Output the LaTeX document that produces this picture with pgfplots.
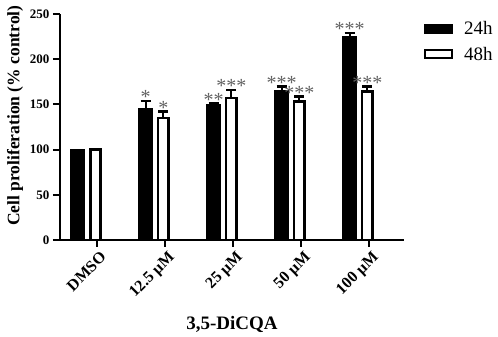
\documentclass[border=0pt]{standalone}
\usepackage{pgfplots}
\pgfplotsset{compat=1.18}
\usepackage{fontspec}
\setmainfont{Liberation Serif}

\begin{document}
\begin{tikzpicture}
\begin{axis}[
  scale only axis,
  width=344pt, height=226pt,
  xmin=-0.54, xmax=4.52,
  ymin=0, ymax=250,
  axis lines=left,
  axis line style={-, line width=2pt},
  xtick={0,1,2,3,4},
  xticklabels={DMSO, 12.5 µM, 25 µM, 50 µM, 100 µM},
  ytick={0,50,100,150,200,250},
  tick style={line width=2pt, black},
  tick align=outside,
  major tick length=7pt,
  /pgf/number format/assume math mode=true,
  y tick label style={font=\bfseries\fontsize{13}{15}\selectfont},
  x tick label style={font=\bfseries\fontsize{16}{18}\selectfont,
    rotate=45, anchor=north east, xshift=3pt, yshift=-1pt},
  ylabel={Cell proliferation (\% control)},
  xlabel={3,5-DiCQA},
  ylabel style={font=\bfseries\fontsize{17.5}{20}\selectfont, at={(ticklabel cs:0.55)}},
  xlabel style={font=\bfseries\fontsize{19}{21}\selectfont, yshift=-8pt},
  legend style={at={(rel axis cs:1,1)}, anchor=north west, xshift=17pt, yshift=-3pt,
    draw=none, fill=none, font=\fontsize{19}{21}\selectfont, row sep=7pt, column sep=9pt},
  legend image code/.code={\draw[#1, line width=2pt] (0pt,-4pt) rectangle (27pt,4pt);},
  nodes near coords style={anchor=base, inner sep=0pt, yshift=-3pt, text=black!62,
    font=\fontsize{20}{20}\selectfont},
  clip=false,
]
% 24h
\addplot[ybar, bar width=0.21, bar shift=0pt, fill=black, draw=black, line width=1pt]
  coordinates {(-0.28,100) (0.72,145) (1.72,150) (2.72,165) (3.72,225)};
\addlegendentry{24h}
% 48h
\addplot[ybar, bar width=0.15, bar shift=0pt, fill=white, draw=black, line width=2.5pt]
  coordinates {(-0.02,100) (0.98,135) (1.98,157) (2.98,153) (3.98,164)};
\addlegendentry{48h}
% SEM, upper half only
\addplot[draw=none, mark=none, forget plot,
  error bars/.cd, y dir=plus, y explicit,
  error bar style={line width=2pt, black},
  error mark options={line width=2.5pt, mark size=5pt, rotate=90}]
  coordinates {
  (0.72,145) +- (0,9)
  (1.72,150) +- (0,1)
  (2.72,165) +- (0,5)
  (3.72,225) +- (0,4)
  (0.98,135) +- (0,7)
  (1.98,157) +- (0,9)
  (2.98,153) +- (0,6)
  (3.98,164) +- (0,6)
};
% significance
\addplot[draw=none, mark=none, nodes near coords, point meta=explicit symbolic, forget plot]
  coordinates {
  (0.72,154) [*]
  (0.98,142) [*]
  (1.72,151) [**]
  (1.98,166) [***]
  (2.72,170) [***]
  (2.98,159) [***]
  (3.72,229) [***]
  (3.98,170) [***]
};
\end{axis}
\path ([xshift=-60pt,yshift=14pt]current axis.north west)
      ([xshift=94pt,yshift=-96pt]current axis.south east);
\end{tikzpicture}
\end{document}
